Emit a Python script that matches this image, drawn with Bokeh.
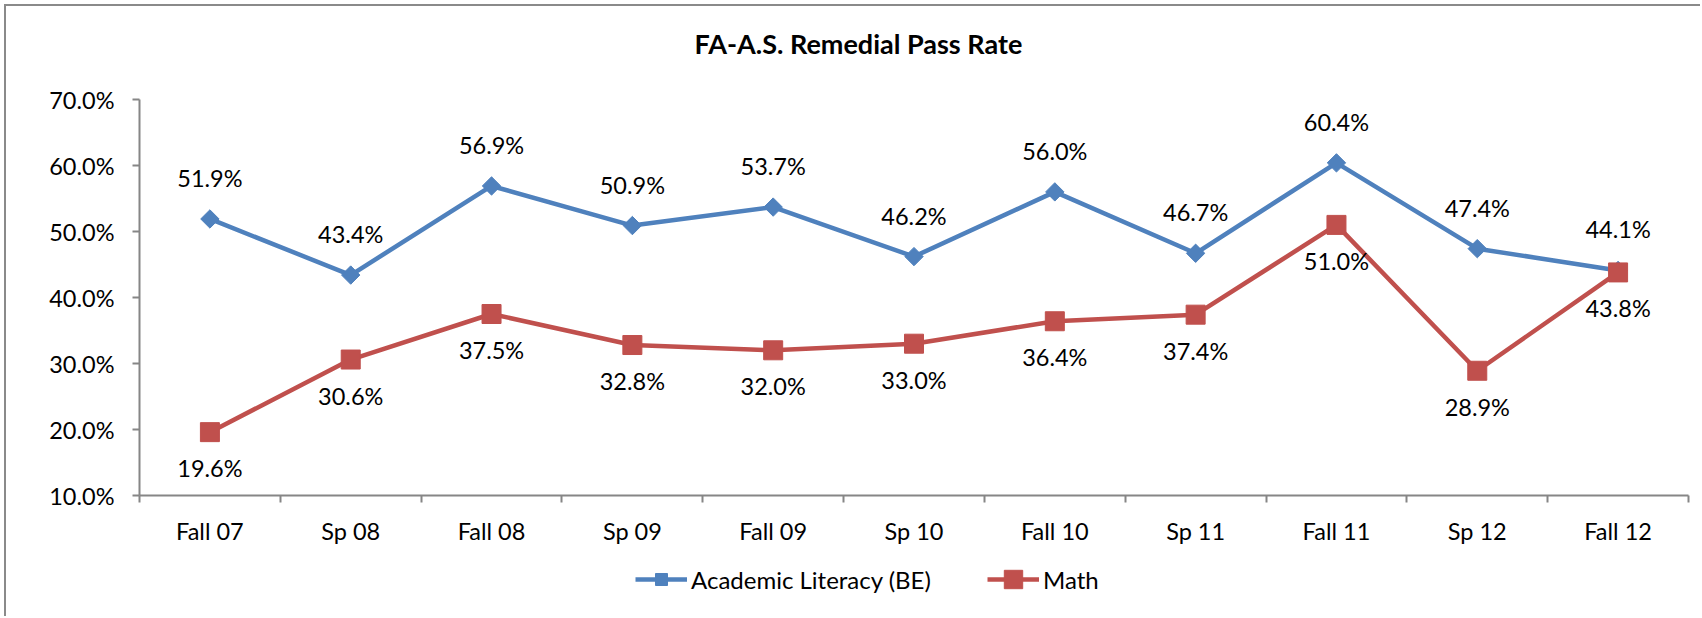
import numpy as np
from bokeh.plotting import figure
from bokeh.layouts import column
from bokeh.models import (ColumnDataSource, FixedTicker, PrintfTickFormatter, LabelSet,
                          Legend, LegendItem, Range1d)
from bokeh.core.properties import value
from bokeh.embed import file_html
from bokeh.resources import INLINE

# ---- data ----
categories = ["Fall 07", "Sp 08", "Fall 08", "Sp 09", "Fall 09", "Sp 10",
              "Fall 10", "Sp 11", "Fall 11", "Sp 12", "Fall 12"]
academic = [51.9, 43.4, 56.9, 50.9, 53.7, 46.2, 56.0, 46.7, 60.4, 47.4, 44.1]
math = [19.6, 30.6, 37.5, 32.8, 32.0, 33.0, 36.4, 37.4, 51.0, 28.9, 43.8]
y_ticks = [10, 20, 30, 40, 50, 60, 70]
series_names = ["Academic Literacy (BE)", "Math"]
title_text = "FA-A.S. Remedial Pass Rate"

FONT = "Lato"
FS = "23.5px"
LEG_FS = "24px"
BLUE = "#4F81BD"
RED = "#C0504D"
AXIS = "#868686"

xs = list(range(len(categories)))
src = ColumnDataSource(dict(
    x=xs, a=academic, m=math,
    a_lbl=[f"{v:.1f}%" for v in academic],
    m_lbl=[f"{v:.1f}%" for v in math],
))

W = 1694
H_MAIN = 542
H_LEG = 68

p = figure(width=W, height=H_MAIN, output_backend="svg", toolbar_location=None,
           x_range=Range1d(-0.5, len(categories) - 0.5),
           y_range=Range1d(y_ticks[0], y_ticks[-1]),
           min_border_left=133, min_border_right=12, min_border_top=93,
           min_border_bottom=53)
p.outline_line_color = None
p.grid.visible = False
p.background_fill_color = "white"
p.border_fill_color = "white"

# title: second (empty) line lifts the text up inside the top margin
p.title.text = title_text + "\n"
p.title.align = "left"
p.title.offset = 555
p.title.standoff = 0
p.title.text_line_height = 1.2
p.title.text_font = FONT
p.title.text_font_size = "27px"
p.title.text_font_style = "bold"
p.title.text_color = "black"

# x axis: labels at centres, ticks at category boundaries (minor ticks)
p.xaxis.ticker = FixedTicker(ticks=xs,
                             minor_ticks=[i - 0.5 for i in range(len(categories) + 1)])
p.xaxis.major_label_overrides = {i: c for i, c in enumerate(categories)}
p.xaxis.major_tick_line_color = None
p.xaxis.major_tick_out = 0
p.xaxis.major_tick_in = 0
p.xaxis.minor_tick_line_color = AXIS
p.xaxis.minor_tick_line_width = 2
p.xaxis.minor_tick_out = 7
p.xaxis.minor_tick_in = 0
p.xaxis.major_label_standoff = 14
p.xaxis.axis_line_color = AXIS
p.xaxis.axis_line_width = 2

p.yaxis.ticker = FixedTicker(ticks=y_ticks)
p.yaxis.formatter = PrintfTickFormatter(format="%.1f%%")
p.yaxis.minor_tick_line_color = None
p.yaxis.major_tick_line_color = AXIS
p.yaxis.major_tick_line_width = 2
p.yaxis.major_tick_out = 7
p.yaxis.major_tick_in = 0
p.yaxis.major_label_standoff = 18
p.yaxis.axis_line_color = AXIS
p.yaxis.axis_line_width = 2

for ax in (p.xaxis, p.yaxis):
    ax.major_label_text_font = FONT
    ax.major_label_text_font_size = FS
    ax.major_label_text_color = "black"

# series
p.line("x", "a", source=src, line_color=BLUE, line_width=4.5)
p.scatter("x", "a", source=src, marker="square", angle=np.pi / 4, size=13,
          fill_color=BLUE, line_color=BLUE)
p.line("x", "m", source=src, line_color=RED, line_width=4.5)
p.scatter("x", "m", source=src, marker="square", size=19,
          fill_color=RED, line_color=RED)

p.add_layout(LabelSet(x="x", y="a", text="a_lbl", source=src, y_offset=41,
                      text_align="center", text_baseline="middle",
                      text_font=value(FONT), text_font_size=value(FS),
                      text_color="black"))
p.add_layout(LabelSet(x="x", y="m", text="m_lbl", source=src, y_offset=-36,
                      text_align="center", text_baseline="middle",
                      text_font=value(FONT), text_font_size=value(FS),
                      text_color="black"))

# ---- legend strip below the chart (series drawn off-range, only legend shows) ----
q = figure(width=W, height=H_LEG, output_backend="svg", toolbar_location=None,
           x_range=Range1d(0, 1), y_range=Range1d(0, 1),
           x_axis_type=None, y_axis_type=None,
           min_border_left=0, min_border_right=0, min_border_top=0,
           min_border_bottom=0)
q.outline_line_color = None
q.grid.visible = False
q.background_fill_color = "white"
q.border_fill_color = "white"

qa_l = q.line("x", "a", source=src, line_color=BLUE, line_width=4.5)
qa_s = q.scatter("x", "a", source=src, marker="square", angle=np.pi / 4,
                 fill_color=BLUE, line_color=BLUE)
qm_l = q.line("x", "m", source=src, line_color=RED, line_width=4.5)
qm_s = q.scatter("x", "m", source=src, marker="square",
                 fill_color=RED, line_color=RED)

common = dict(orientation="horizontal", glyph_width=52, label_standoff=4,
              padding=0, margin=0, border_line_color=None, background_fill_alpha=0,
              label_text_font=FONT, label_text_font_size=LEG_FS,
              label_text_color="black")
leg_a = Legend(items=[LegendItem(label=series_names[0], renderers=[qa_l, qa_s])],
               location=(496, 22), glyph_height=30, **common)
leg_m = Legend(items=[LegendItem(label=series_names[1], renderers=[qm_l, qm_s])],
               location=(848, 14), glyph_height=46, **common)
q.add_layout(leg_a, "center")
q.add_layout(leg_m, "center")

layout = column(p, q, spacing=0)
layout.styles = {"margin-left": "4px", "margin-top": "4px",
                 "border-left": "2px solid #8a8a8a", "border-top": "2px solid #8a8a8a"}

open("out.html", "w").write(file_html(layout, INLINE))
